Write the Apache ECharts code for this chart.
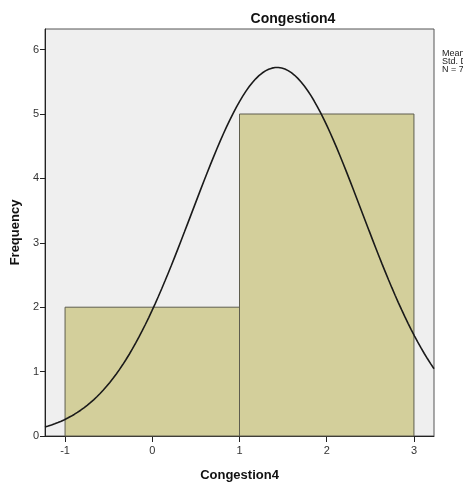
<!DOCTYPE html>
<html>
<head>
<meta charset="utf-8">
<script src="https://cdn.jsdelivr.net/npm/echarts@6/dist/echarts.min.js"></script>
<style>
  html, body { margin: 0; padding: 0; background: #ffffff; }
  #chart { width: 463px; height: 487px; }
</style>
</head>
<body>
<div id="chart"></div>
<script>
// Histogram bins of Congestion4
const binStarts = [-1, 1];
const binEnds = [1, 3];
const binCounts = [2, 5];

// Summary statistics shown beside the plot and used for the normal curve
const meanValue = 1.43;
const stdDev = 0.976;
const sampleSize = 7;

// Axis tick positions
const xTicks = [-1, 0, 1, 2, 3];
const yTicks = [0, 1, 2, 3, 4, 5, 6];

const xMin = -1.23, xMax = 3.23;
const binWidth = binEnds[0] - binStarts[0];

// Normal density scaled to the frequency axis
const curve = [];
const steps = 120;
for (let i = 0; i <= steps; i++) {
  const x = xMin + (xMax - xMin) * i / steps;
  const z = (x - meanValue) / stdDev;
  const y = sampleSize * binWidth * Math.exp(-0.5 * z * z) / (stdDev * Math.sqrt(2 * Math.PI));
  curve.push([x, y]);
}

const bars = binStarts.map((s, i) => [s, binEnds[i], binCounts[i]]);

const chart = echarts.init(document.getElementById('chart'), null, { renderer: 'canvas' });
const fontFam = '"Liberation Sans", Arial, sans-serif';

chart.setOption({
  animation: false,
  backgroundColor: '#ffffff',
  title: {
    text: 'Congestion4',
    left: 288, top: 7, textAlign: 'center',
    textStyle: { fontFamily: fontFam, fontSize: 14, fontWeight: 'bold', color: '#111' }
  },
  grid: {
    left: 45, right: 29, top: 29, bottom: 49,
    show: true, backgroundColor: '#efefef', borderColor: '#555555', borderWidth: 1
  },
  xAxis: {
    type: 'value', min: xMin, max: xMax,
    name: 'Congestion4', nameLocation: 'middle', nameGap: 33,
    nameTextStyle: { fontFamily: fontFam, fontSize: 13, fontWeight: 'bold', color: '#111' },
    splitLine: { show: false },
    axisLine: { show: true, onZero: false, lineStyle: { color: '#222', width: 1 } },
    axisTick: { show: true, length: 6, customValues: xTicks, lineStyle: { color: '#222' } },
    axisLabel: { customValues: xTicks, margin: 9, fontFamily: fontFam, fontSize: 11, color: '#333' }
  },
  yAxis: {
    type: 'value', min: 0, max: 6.32,
    name: 'Frequency', nameLocation: 'middle', nameGap: 20,
    nameTextStyle: { fontFamily: fontFam, fontSize: 13, fontWeight: 'bold', color: '#111' },
    splitLine: { show: false },
    axisLine: { show: true, onZero: false, lineStyle: { color: '#222', width: 1 } },
    axisTick: { show: true, length: 5, customValues: yTicks, lineStyle: { color: '#222' } },
    axisLabel: { customValues: yTicks, margin: 6, fontFamily: fontFam, fontSize: 11, color: '#333' }
  },
  series: [
    {
      type: 'custom',
      data: bars,
      encode: { x: [0, 1], y: 2 },
      renderItem: function (params, api) {
        const p0 = api.coord([api.value(0), 0]);
        const p1 = api.coord([api.value(1), api.value(2)]);
        return {
          type: 'rect',
          shape: { x: p0[0], y: p1[1], width: p1[0] - p0[0], height: p0[1] - p1[1] },
          style: { fill: '#d3cf9b', stroke: '#5e5d4e', lineWidth: 1 }
        };
      },
      z: 2
    },
    {
      type: 'line',
      data: curve,
      showSymbol: false,
      smooth: false,
      lineStyle: { color: '#1a1a1a', width: 1.6 },
      z: 3
    }
  ],
  graphic: [
    { type: 'text', left: 442, top: 49, style: { text: 'Mean = ' + meanValue.toFixed(2), font: '9px ' + fontFam, fill: '#222' } },
    { type: 'text', left: 442, top: 57, style: { text: 'Std. Dev. = ' + stdDev.toFixed(3), font: '9px ' + fontFam, fill: '#222' } },
    { type: 'text', left: 442, top: 65, style: { text: 'N = ' + sampleSize, font: '9px ' + fontFam, fill: '#222' } }
  ]
});
</script>
</body>
</html>
